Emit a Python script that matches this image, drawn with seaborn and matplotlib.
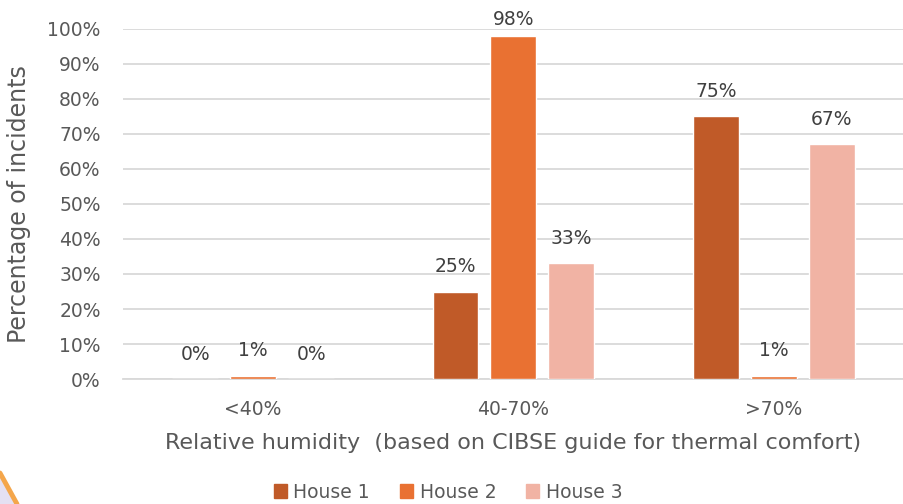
import matplotlib
matplotlib.use("Agg")
import matplotlib.pyplot as plt
from matplotlib.lines import Line2D
from matplotlib.patches import Polygon
import pandas as pd
import seaborn as sns

# data
categories = ["<40%", "40-70%", ">70%"]
houses = ["House 1", "House 2", "House 3"]
house1 = [0.00, 0.25, 0.75]
house2 = [0.01, 0.98, 0.01]
house3 = [0.00, 0.33, 0.67]
yticks = [i / 10 for i in range(11)]

colors = ["#C05A28", "#E97132", "#F1B3A4"]

rows = []
for h, vals in zip(houses, [house1, house2, house3]):
    for c, v in zip(categories, vals):
        rows.append({"humidity": c, "house": h, "share": v})
df = pd.DataFrame(rows)

sns.set_style("white")
plt.rcParams["font.family"] = ["DejaVu Sans"]

fig = plt.figure(figsize=(9.04, 5.04), dpi=100)
ax = fig.add_axes([0.136, 0.248, 0.864, 0.6945])

sns.barplot(data=df, x="humidity", y="share", hue="house", order=categories,
            hue_order=houses, palette=colors, width=0.668, gap=0.207,
            saturation=1, ax=ax, zorder=3)
ax.set_xlim(-0.5, 2.5)

ax.set_ylim(0, 1.0)
ax.set_yticks(yticks)
ax.set_yticklabels([f"{int(round(t * 100))}%" for t in yticks])
ax.yaxis.grid(True, color="#D9D9D9", linewidth=1.3, zorder=0)
ax.set_axisbelow(True)
for s in ["top", "right", "left"]:
    ax.spines[s].set_visible(False)
ax.spines["bottom"].set_color("#D9D9D9")
ax.spines["bottom"].set_linewidth(1.3)
ax.tick_params(axis="both", length=0, labelsize=13.5, colors="#595959")
ax.tick_params(axis="x", pad=15)
ax.tick_params(axis="y", pad=16)

for cont in ax.containers:
    labels = [f"{int(round(v * 100))}%" for v in cont.datavalues]
    anns = ax.bar_label(cont, labels=labels, padding=11, fontsize=13.5,
                        color="#404040", clip_on=False)
    # labels near the top get squeezed in to stay inside the chart area
    for a, v in zip(anns, cont.datavalues):
        if v > 0.95:
            a.xyann = (0, 5)

ax.set_xlabel("Relative humidity  (based on CIBSE guide for thermal comfort)",
              fontsize=16, color="#595959", labelpad=10)
ax.set_ylabel("Percentage of incidents", fontsize=17, color="#595959",
              labelpad=12)

ax.legend_.remove()
handles = [plt.Rectangle((0, 0), 1, 1, color=c) for c in colors]
leg = fig.legend(handles, houses, loc="center", bbox_to_anchor=(448 / 904, 12 / 504),
                 ncol=3, frameon=False, fontsize=13.5, handlelength=0.7,
                 handleheight=0.7, handletextpad=0.35, columnspacing=1.6,
                 borderpad=0)
for t in leg.get_texts():
    t.set_color("#595959")

# decorative corner stripe seen at the lower-left of the reference
W, H = 904, 504
fig.patches.append(Polygon([(0, 0), (15 / W, 0), (0, 30 / H)], closed=True,
                           transform=fig.transFigure, facecolor="#E4E0F2",
                           edgecolor="none"))
fig.lines.append(Line2D([0, 17 / W], [31 / H, 0], transform=fig.transFigure,
                        color="#F4A64B", linewidth=3.5))

fig.savefig("out.png", dpi=100)
